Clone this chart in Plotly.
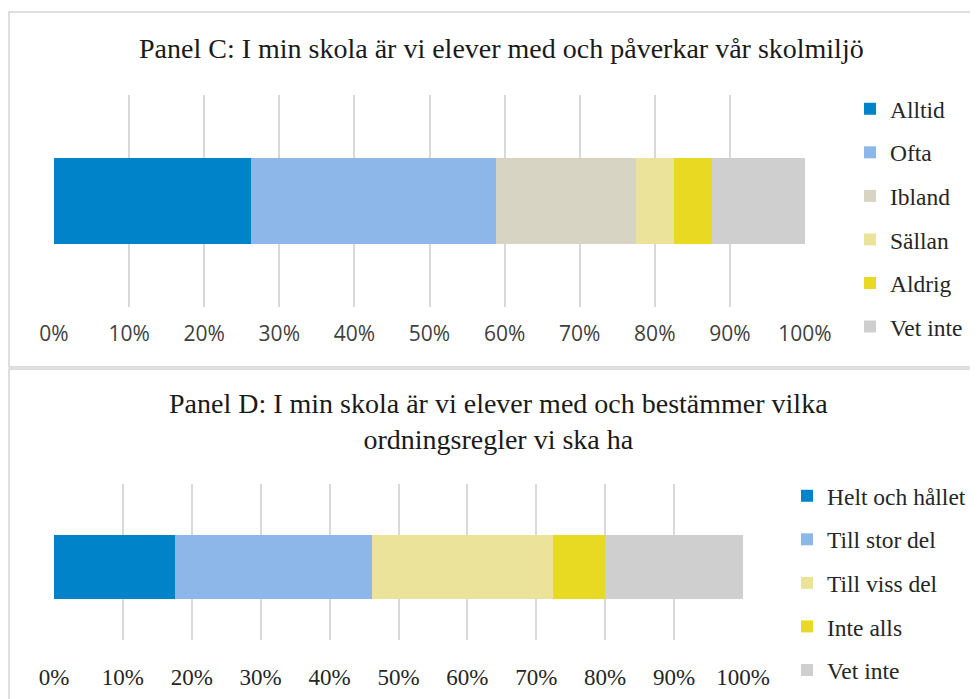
import plotly.graph_objects as go

# the page body has an 8px margin, so the figure is sized to fit the window
OFF = 8
W, H = 978 - OFF, 699 - OFF

# Panel C
c_labels = ["Alltid", "Ofta", "Ibland", "Sällan", "Aldrig", "Vet inte"]
c_values = [26.2, 32.7, 18.6, 5.1, 5.0, 12.4]
c_colors = ["#0083C9", "#8DB7E8", "#D8D4C4", "#ECE39A", "#E8D923", "#CFCFCF"]

# Panel D
d_labels = ["Helt och hållet", "Till stor del", "Till viss del", "Inte alls", "Vet inte"]
d_values = [17.6, 28.6, 26.2, 7.6, 20.0]
d_colors = ["#0083C9", "#8DB7E8", "#ECE39A", "#E8D923", "#CFCFCF"]

tick_vals = list(range(0, 101, 10))
tick_text = [f"{v}%" for v in tick_vals]

serif = "Liberation Serif"
sans = "Open Sans"


# window pixel -> paper fraction
def px(x):
    return (x - OFF) / W


def py(y):
    return 1 - (y - OFF) / H


fig = go.Figure()

for lab, val, col in zip(c_labels, c_values, c_colors):
    fig.add_trace(go.Bar(
        x=[val], y=["C"], orientation="h", name=lab,
        marker=dict(color=col, line=dict(width=0)),
        xaxis="x", yaxis="y", legend="legend", legendgroup="c" + lab,
        hovertemplate=lab + ": %{x}%<extra></extra>",
    ))

for lab, val, col in zip(d_labels, d_values, d_colors):
    fig.add_trace(go.Bar(
        x=[val], y=["D"], orientation="h", name=lab,
        marker=dict(color=col, line=dict(width=0)),
        xaxis="x2", yaxis="y2", legend="legend2", legendgroup="d" + lab,
        hovertemplate=lab + ": %{x}%<extra></extra>",
    ))

xaxis_common = dict(
    range=[0, 100], tickvals=tick_vals, ticktext=tick_text,
    showgrid=True, gridcolor="#D9D9D9", gridwidth=1.5,
    zeroline=False, showline=False, fixedrange=True,
)

legend_font = dict(family=serif, size=23.5, color="#262626")

fig.update_layout(
    width=W, height=H,
    margin=dict(l=0, r=0, t=0, b=0, autoexpand=False),
    paper_bgcolor="white", plot_bgcolor="white",
    barmode="stack", bargap=0.59,
    showlegend=True,
    xaxis=dict(domain=[px(54), px(805)], anchor="y",
               tickfont=dict(family=sans, size=21, color="#404040"),
               ticklabelstandoff=12, **xaxis_common),
    yaxis=dict(domain=[py(307), py(95)], anchor="x", showticklabels=False,
               showgrid=False, zeroline=False, range=[-0.5, 0.5]),
    xaxis2=dict(domain=[px(54), px(743)], anchor="y2",
                tickfont=dict(family=serif, size=23, color="#262626"),
                ticklabelstandoff=21, **xaxis_common),
    yaxis2=dict(domain=[py(640), py(484)], anchor="x2", showticklabels=False,
                showgrid=False, zeroline=False, range=[-0.465, 0.535]),
    legend=dict(x=px(850), y=py(87), xanchor="left", yanchor="top",
                font=legend_font, tracegroupgap=10,
                itemclick=False, itemdoubleclick=False,
                bgcolor="rgba(0,0,0,0)"),
    legend2=dict(x=px(787), y=py(474), xanchor="left", yanchor="top",
                 font=legend_font, tracegroupgap=10,
                 itemclick=False, itemdoubleclick=False,
                 bgcolor="rgba(0,0,0,0)"),
    annotations=[
        dict(text="Panel C: I min skola är vi elever med och påverkar vår skolmiljö",
             x=px(501), y=py(48), xref="paper", yref="paper",
             xanchor="center", yanchor="middle",
             showarrow=False, font=dict(family=serif, size=28, color="#1a1a1a")),
        dict(text="Panel D: I min skola är vi elever med och bestämmer vilka<br>ordningsregler vi ska ha",
             x=px(498), y=py(421), xref="paper", yref="paper",
             xanchor="center", yanchor="middle",
             showarrow=False, font=dict(family=serif, size=28, color="#1a1a1a")),
    ],
    shapes=[
        dict(type="rect", xref="paper", yref="paper",
             x0=px(9), x1=px(990), y0=py(367), y1=py(12),
             line=dict(color="#D4D4D4", width=1.5)),
        dict(type="rect", xref="paper", yref="paper",
             x0=px(9), x1=px(990), y0=py(710), y1=py(369),
             line=dict(color="#D4D4D4", width=1.5)),
    ],
)

fig.write_html("out.html")
